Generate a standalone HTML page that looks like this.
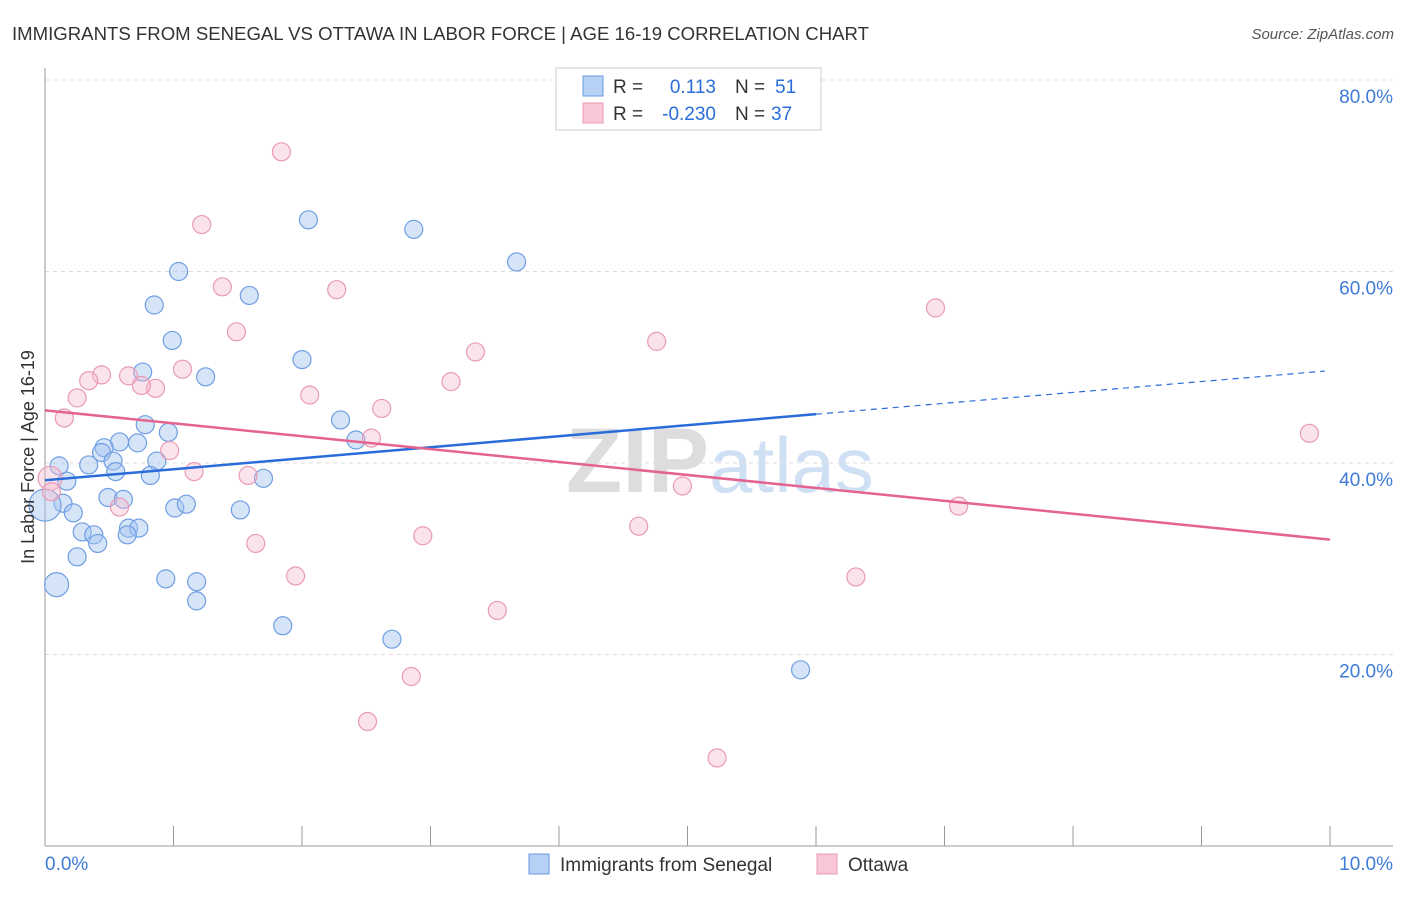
<!DOCTYPE html>
<html><head><meta charset="utf-8"><style>
body{margin:0;background:#fff;font-family:"Liberation Sans",sans-serif;}
svg text{font-family:"Liberation Sans",sans-serif;}
</style></head><body>
<svg id="chart" width="1406" height="892" xmlns="http://www.w3.org/2000/svg">
<text x="12" y="40" font-size="18" fill="#333" textLength="857" lengthAdjust="spacingAndGlyphs">IMMIGRANTS FROM SENEGAL VS OTTAWA IN LABOR FORCE | AGE 16-19 CORRELATION CHART</text>
<text x="1394" y="39" font-size="15" fill="#555" font-style="italic" text-anchor="end">Source: ZipAtlas.com</text>
<text x="720" y="492" font-size="92" fill="#d8d8d8" text-anchor="middle" font-family="Liberation Serif"><tspan font-weight="bold" fill="#ddd">ZIP</tspan><tspan fill="#cfe0f5" font-family="Liberation Sans" font-size="78">atlas</tspan></text>
<g id="grid"></g>
<g id="axes"></g>
<g id="points"></g>
<g id="lines"></g>
<text x="34" y="457" font-size="18" fill="#333" text-anchor="middle" transform="rotate(-90 34 457)">In Labor Force | Age 16-19</text>
<g>
<rect x="556" y="68" width="265" height="62" fill="#fff" stroke="#ccc"/>
<rect x="583" y="76" width="20" height="20" fill="#b7d0f5" stroke="#6a9ae0"/>
<rect x="583" y="103" width="20" height="20" fill="#f8c6d6" stroke="#e89ab5"/>
<text x="613" y="93" font-size="19" fill="#333">R =</text>
<text x="716" y="93" font-size="19" fill="#2a6dd9" text-anchor="end">0.113</text>
<text x="735" y="93" font-size="19" fill="#333">N =</text>
<text x="775" y="93" font-size="19" fill="#2a6dd9">51</text>
<text x="613" y="120" font-size="19" fill="#333">R =</text>
<text x="716" y="120" font-size="19" fill="#2a6dd9" text-anchor="end">-0.230</text>
<text x="735" y="120" font-size="19" fill="#333">N =</text>
<text x="771" y="120" font-size="19" fill="#2a6dd9">37</text>
</g>
<g>
<rect x="529" y="854" width="20" height="20" fill="#b7d0f5" stroke="#6a9ae0"/>
<text x="560" y="871" font-size="19" fill="#333">Immigrants from Senegal</text>
<rect x="817" y="854" width="20" height="20" fill="#f8c6d6" stroke="#e89ab5"/>
<text x="848" y="871" font-size="19" fill="#333">Ottawa</text>
</g>
</svg>
<script>
const yTicks=[20,40,60,80];
const yTickLabels=["20.0%","40.0%","60.0%","80.0%"];
const xTicks=[0,1,2,3,4,5,6,7,8,9,10];
const xTickLabels=["0.0%","10.0%"];
const blueX=[2.05,2.87,3.67,1.04,1.59,0.85,0.99,2.00,0.76,1.25,0.78,0.96,2.30,2.42,0.58,0.72,0.46,0.44,0.53,0.87,0.34,0.11,0.55,0.82,1.70,0.17,0.49,0.61,0.14,1.01,1.10,1.52,0.22,0.65,0.73,0.64,0.29,0.38,0.41,0.25,0.94,1.18,1.18,0.09,1.85,2.70,5.88,0.0];
const blueY=[65.4,64.4,61.0,60.0,57.5,56.5,52.8,50.8,49.5,49.0,44.0,43.2,44.5,42.4,42.2,42.1,41.6,41.1,40.2,40.2,39.8,39.7,39.1,38.7,38.4,38.1,36.4,36.2,35.8,35.3,35.7,35.1,34.8,33.2,33.2,32.5,32.8,32.5,31.6,30.2,27.9,27.6,25.6,27.3,23.0,21.6,18.4,35.6];
const blueR=[9,9,9,9,9,9,9,9,9,9,9,9,9,9,9,9,9,9,9,9,9,9,9,9,9,9,9,9,9,9,9,9,9,9,9,9,9,9,9,9,9,9,9,12,9,9,9,16];
const pinkX=[1.84,1.22,1.38,2.27,1.49,3.35,4.76,6.93,0.44,0.65,1.07,0.34,0.86,0.75,3.16,2.06,0.25,2.62,0.15,2.54,0.97,1.16,1.58,4.96,9.84,7.11,0.58,4.62,2.94,1.64,1.95,6.31,3.52,2.85,2.51,5.23,0.04,0.05];
const pinkY=[72.5,64.9,58.4,58.1,53.7,51.6,52.7,56.2,49.2,49.1,49.8,48.6,47.8,48.1,48.5,47.1,46.8,45.7,44.7,42.6,41.3,39.1,38.7,37.6,43.1,35.5,35.4,33.4,32.4,31.6,28.2,28.1,24.6,17.7,13.0,9.2,38.4,37.0];
const pinkR=[9,9,9,9,9,9,9,9,9,9,9,9,9,9,9,9,9,9,9,9,9,9,9,9,9,9,9,9,9,9,9,9,9,9,9,9,12,9];
const blueTrendX=[0,6.0,9.96];
const blueTrendY=[38.2,45.1,49.6];
const pinkTrendX=[0,10];
const pinkTrendY=[45.5,32.0];
const NS="http://www.w3.org/2000/svg";
const sx=v=>45+v*128.5;
const sy=v=>846-v*9.575;
function mk(tag,attrs,parent){const e=document.createElementNS(NS,tag);for(const k in attrs)e.setAttribute(k,attrs[k]);document.getElementById(parent).appendChild(e);return e;}
yTicks.forEach((t,i)=>{
 const l=mk('line',{x1:45,x2:1393,y1:sy(t),y2:sy(t),stroke:'#ddd','stroke-dasharray':'4,4'},'grid');
 
 
 const tx=mk('text',{x:1393,y:sy(t)+23,'font-size':19,fill:'#3f7bd8','text-anchor':'end'},'grid');
 tx.textContent=yTickLabels[i];
 
 
});
const ax=mk('line',{x1:45,x2:45,y1:68,y2:846,stroke:'#999'},'axes');


const bx=mk('line',{x1:45,x2:1393,y1:846,y2:846,stroke:'#999'},'axes');


xTicks.forEach(t=>{
 const l=mk('line',{x1:sx(t),x2:sx(t),y1:826,y2:846,stroke:'#999'},'axes');
 
 
});
const xl0=mk('text',{x:45,y:870,'font-size':19,fill:'#3f7bd8'},'axes');
xl0.textContent=xTickLabels[0];


const xl1=mk('text',{x:1393,y:870,'font-size':19,fill:'#3f7bd8','text-anchor':'end'},'axes');
xl1.textContent=xTickLabels[1];


blueX.forEach((x,i)=>{
 const c=mk('circle',{cx:sx(x),cy:sy(blueY[i]),r:blueR[i],fill:'rgba(164,196,240,0.45)',stroke:'#6f9ee3','stroke-width':1.2},'points');
 
 
});
pinkX.forEach((x,i)=>{
 const c=mk('circle',{cx:sx(x),cy:sy(pinkY[i]),r:pinkR[i],fill:'rgba(246,186,206,0.4)',stroke:'#e99ab6','stroke-width':1.2},'points');
 
 
});
const b1=mk('line',{x1:sx(blueTrendX[0]),y1:sy(blueTrendY[0]),x2:sx(blueTrendX[1]),y2:sy(blueTrendY[1]),stroke:'#2a6dd9','stroke-width':2.5},'lines');


const b2=mk('line',{x1:sx(blueTrendX[1]),y1:sy(blueTrendY[1]),x2:sx(blueTrendX[2]),y2:sy(blueTrendY[2]),stroke:'#2a6dd9','stroke-width':1.2,'stroke-dasharray':'6,5'},'lines');


const p1=mk('line',{x1:sx(pinkTrendX[0]),y1:sy(pinkTrendY[0]),x2:sx(pinkTrendX[1]),y2:sy(pinkTrendY[1]),stroke:'#e5638f','stroke-width':2.5},'lines');


</script>
</body></html>
